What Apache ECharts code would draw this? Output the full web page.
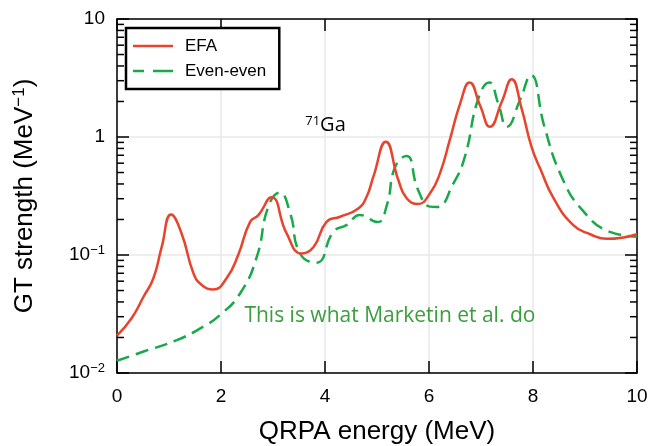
<!DOCTYPE html>
<html>
<head>
<meta charset="utf-8">
<script src="https://cdn.jsdelivr.net/npm/echarts@6/dist/echarts.min.js"></script>
<style>html,body{margin:0;padding:0;background:#fff}#c{width:649px;height:446px}</style>
</head>
<body>
<div id="c"></div>
<script>
// EFA (red, solid)
const efaEnergy = [0.00,0.28,0.51,0.70,0.86,1.04,1.24,1.47,1.63,1.85,2.11,2.33,2.56,2.72,2.97,3.26,3.55,3.78,4.03,4.29,4.64,4.80,4.93,5.17,5.41,5.57,5.79,6.02,6.21,6.40,6.60,6.78,6.99,7.17,7.40,7.59,7.78,7.97,8.15,8.40,8.78,9.10,9.42,10.0];
const efaStrength = [0.0207,0.0291,0.0443,0.0635,0.117,0.220,0.153,0.070,0.0557,0.0510,0.0638,0.100,0.191,0.218,0.308,0.153,0.103,0.117,0.191,0.211,0.248,0.312,0.461,0.912,0.432,0.303,0.271,0.333,0.492,0.944,1.93,2.89,1.81,1.22,1.99,3.08,1.75,0.828,0.525,0.30,0.178,0.150,0.137,0.150];
// Even-even (green, dashed)
const eeEnergy = [0.00,0.51,1.15,1.66,1.98,2.37,2.69,2.91,3.13,3.33,3.52,3.84,4.16,4.42,4.67,5.01,5.19,5.35,5.57,5.79,6.02,6.15,6.47,6.69,6.95,7.16,7.33,7.50,7.75,7.96,8.22,8.55,8.95,9.48,10.0];
const eeStrength = [0.0127,0.0152,0.0190,0.0247,0.0310,0.0474,0.0968,0.257,0.337,0.226,0.103,0.0861,0.157,0.180,0.218,0.190,0.265,0.560,0.690,0.356,0.257,0.255,0.405,0.681,2.13,2.90,1.93,1.22,2.06,3.35,1.22,0.461,0.240,0.157,0.143];
const xTicks = [0,2,4,6,8,10];
const yTicks = [0.01,0.1,1,10];
const yTickLabels = {0.01:'10{s|−2}', 0.1:'10{s|−1}', 1:'1', 10:'10'};

const RED = '#e8432d', GREEN = '#17a94a';
const chart = echarts.init(document.getElementById('c'), null, {renderer:'canvas'});
const font = 'Liberation Sans, Arial, Helvetica, sans-serif';
const axisBase = {
  axisLine:{show:true, onZero:false, lineStyle:{color:'#000', width:1.5}},
  axisTick:{show:true, inside:true, length:12, lineStyle:{color:'#000', width:1.5}},
};
const dashIcon = 'path://M0,0h11v2.5h-11z M20,0h20v2.5h-20z';
const opt = {
  animation:false,
  backgroundColor:'#fff',
  grid:{left:117, right:12, top:19, bottom:73, containLabel:false, outerBoundsMode:'none'},
  legend:{
    left:126, top:28, orient:'vertical',
    padding:[9,13,9,7],
    itemGap:7, itemWidth:40, itemHeight:2.5,
    borderColor:'#000', borderWidth:2.5, borderRadius:0,
    backgroundColor:'#fff',
    textStyle:{fontFamily:font, fontSize:17, color:'#000', padding:[0,0,0,7], lineHeight:18},
    data:[{name:'EFA', icon:'rect', itemStyle:{color:RED}}, {name:'Even-even', icon:dashIcon, itemStyle:{color:GREEN}}]
  },
  xAxis:[
    Object.assign({type:'value', min:0, max:10, interval:2, position:'bottom',
      axisLabel:{fontFamily:font, fontSize:19, color:'#000', margin:14},
      name:'QRPA energy (MeV)', nameLocation:'middle', nameGap:46,
      nameTextStyle:{fontFamily:font, fontSize:26, color:'#000'},
      splitLine:{show:true, lineStyle:{color:'#e8e8e8', width:1.5}}
    }, axisBase),
    Object.assign({type:'value', min:0, max:10, interval:2, position:'top',
      axisLabel:{show:false}, splitLine:{show:false}}, axisBase)
  ],
  yAxis:[
    Object.assign({type:'log', logBase:10, min:0.01, max:10, position:'left',
      axisLabel:{fontFamily:font, fontSize:19, color:'#000', margin:12,
        formatter:v=>{const k=Object.keys(yTickLabels).find(t=>Math.abs(Math.log10(+t)-Math.log10(v))<1e-6);return k?yTickLabels[k]:'';},
        rich:{s:{fontFamily:font, fontSize:13, verticalAlign:'top', padding:[0,0,9,0], color:'#000'}}},
      name:'GT strength (MeV{s|−1})', nameLocation:'middle', nameGap:78, nameRotate:90,
      nameTextStyle:{fontFamily:font, fontSize:26, color:'#000',
        rich:{s:{fontFamily:font, fontSize:17, padding:[0,0,11,0]}}},
      splitLine:{show:true, lineStyle:{color:'#e8e8e8', width:1.5}}
    }, axisBase),
    Object.assign({type:'log', logBase:10, min:0.01, max:10, position:'right',
      axisLabel:{show:false}, splitLine:{show:false}}, axisBase)
  ],
  series:[
    {name:'EFA', type:'line', xAxisIndex:0, yAxisIndex:0, showSymbol:false, symbol:'none',
     smooth:0.5,
     lineStyle:{color:RED, width:2.5}, itemStyle:{color:RED},
     data:efaEnergy.map((x,i)=>[x, efaStrength[i]]), z:3},
    {name:'Even-even', type:'line', xAxisIndex:0, yAxisIndex:0, showSymbol:false, symbol:'none',
     smooth:0.5,
     lineStyle:{color:GREEN, width:2.5, type:[13,7]}, itemStyle:{color:GREEN},
     data:eeEnergy.map((x,i)=>[x, eeStrength[i]]), z:2}
  ],
  graphic:[]
};
chart.setOption(opt);

// minor ticks on log axes (2..9 of each decade), from the axis scale
const g = [];
for (let d = 0; d < yTicks.length-1; d++) {
  for (let m = 2; m <= 9; m++) {
    const v = yTicks[d]*m;
    const pL = chart.convertToPixel({xAxisIndex:0, yAxisIndex:0}, [0, v]);
    const pR = chart.convertToPixel({xAxisIndex:0, yAxisIndex:0}, [10, v]);
    g.push({type:'line', shape:{x1:pL[0], y1:pL[1], x2:pL[0]+7, y2:pL[1]}, style:{stroke:'#000', lineWidth:1.5}, silent:true, z:10});
    g.push({type:'line', shape:{x1:pR[0]-7, y1:pR[1], x2:pR[0], y2:pR[1]}, style:{stroke:'#000', lineWidth:1.5}, silent:true, z:10});
  }
}
const gaPos = chart.convertToPixel({xAxisIndex:0, yAxisIndex:0}, [3.62, 1.25]);
g.push({type:'text', x:gaPos[0], y:gaPos[1], style:{text:'{s|71}Ga', fill:'#000', font:'20px "Open Sans", sans-serif',
  textVerticalAlign:'middle',
  rich:{s:{fontSize:13, fontFamily:'"Open Sans", sans-serif', verticalAlign:'top', padding:[0,0,9,0]}}}, z:10});
const notePos = chart.convertToPixel({xAxisIndex:0, yAxisIndex:0}, [2.45, 0.0306]);
g.push({type:'text', x:notePos[0], y:notePos[1], style:{text:'This is what Marketin et al. do', fill:'#3a9e3c',
  font:'21px "Open Sans", sans-serif', textVerticalAlign:'middle'}, z:10});
chart.setOption({graphic:g});
</script>
</body>
</html>
